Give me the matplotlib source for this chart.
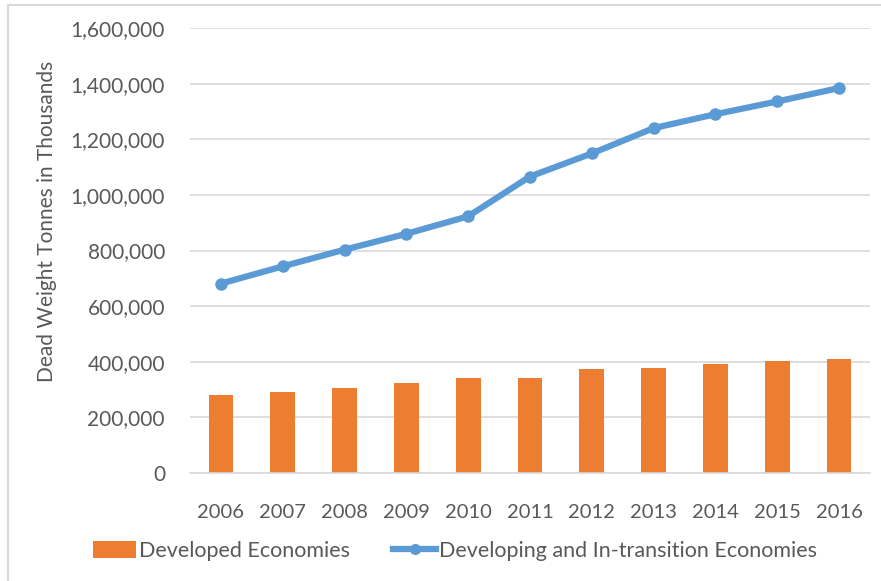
import numpy as np
import matplotlib
matplotlib.use('Agg')
import matplotlib.pyplot as plt
from matplotlib.lines import Line2D
from matplotlib.patches import Patch
from matplotlib.ticker import FuncFormatter

years = ['2006', '2007', '2008', '2009', '2010', '2011',
         '2012', '2013', '2014', '2015', '2016']
developed = [280000, 291000, 305000, 325000, 342000, 342000,
             374000, 378000, 392000, 403000, 410000]
developing = [681000, 743000, 803000, 860000, 923000, 1066000,
              1149000, 1240000, 1290000, 1336000, 1384000]

orange = '#ED7D31'
blue = '#5B9BD5'
grey_text = '#595959'
grid_col = '#D9D9D9'

plt.rcParams['font.family'] = ['Lato', 'DejaVu Sans']

fig = plt.figure(figsize=(8.81, 5.81), dpi=100)
ax = fig.add_axes([190 / 881, 1 - 473 / 581, 680 / 881, 445 / 581])

x = np.arange(len(years))
ax.bar(x, developed, width=0.4, color=orange, zorder=2)
ax.plot(x, developing, color=blue, lw=4.5, marker='o', ms=8,
        solid_capstyle='round', zorder=3)

ax.set_xlim(-0.5, len(years) - 0.5)
ax.set_ylim(0, 1600000)
ax.set_yticks(np.arange(0, 1600001, 200000))
ax.yaxis.set_major_formatter(FuncFormatter(lambda v, p: f'{int(v):,}'))
ax.set_xticks(x)
ax.set_xticklabels(years)

ax.grid(axis='y', color=grid_col, lw=1.2, zorder=0)
ax.tick_params(axis='both', length=0, colors=grey_text)
ax.tick_params(axis='x', pad=22, labelsize=14.5)
ax.tick_params(axis='y', pad=18, labelsize=15)
for s in ['top', 'right', 'left']:
    ax.spines[s].set_visible(False)
ax.spines['bottom'].set_color(grid_col)
ax.spines['bottom'].set_linewidth(1.2)

ax.set_ylabel('Dead Weight Tonnes in Thousands', fontsize=15,
              color=grey_text)
ax.yaxis.set_label_coords(-133 / 680, 0.565)

handles = [Patch(facecolor=orange, edgecolor='none'),
           Line2D([0], [0], color=blue, lw=4.5, marker='o', ms=7)]
fig.legend(handles, ['Developed Economies',
                     'Developing and In-transition Economies'],
           loc='center', bbox_to_anchor=(455 / 881, 1 - 551 / 581),
           ncol=2, frameon=False, fontsize=15.5, labelcolor=grey_text,
           handlelength=2.0, handleheight=0.8, handletextpad=0.15,
           columnspacing=2.0)

# thin frame along the top and left edges
fig.add_artist(Line2D([8 / 881, 1], [1 - 4.5 / 581] * 2, color=grid_col, lw=1.5))
fig.add_artist(Line2D([8 / 881] * 2, [0, 1 - 4.5 / 581], color=grid_col, lw=1.5))

fig.savefig('out.png', dpi=100)
